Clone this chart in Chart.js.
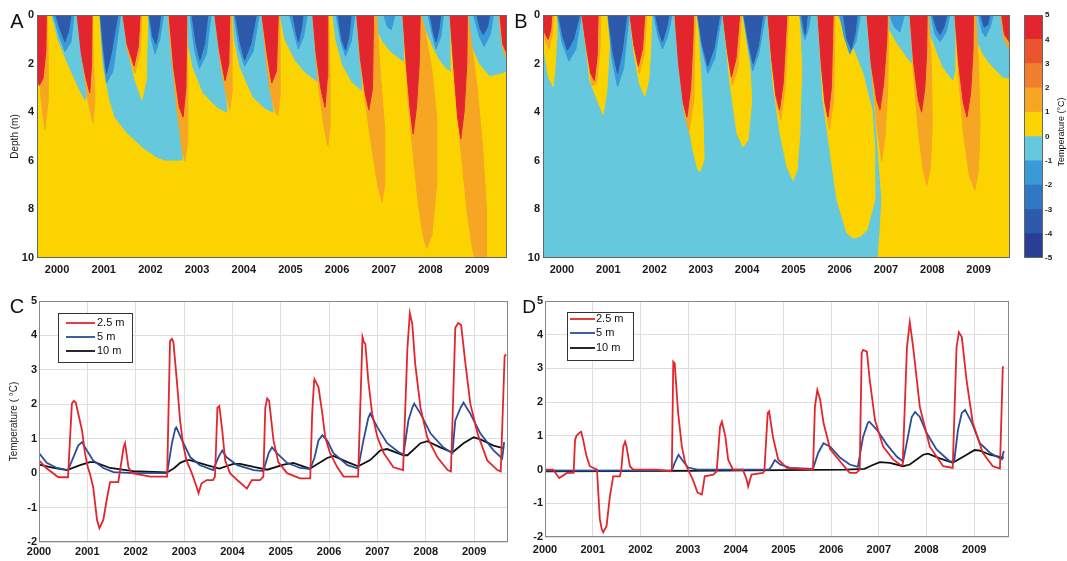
<!DOCTYPE html>
<html>
<head>
<meta charset="utf-8">
<script src="https://cdn.jsdelivr.net/npm/chart.js@4.4.1/dist/chart.umd.min.js"></script>
<style>
  html, body { margin: 0; padding: 0; background: #fff; }
  body { width: 1067px; height: 561px; position: relative; overflow: hidden; }
  .panel { position: absolute; }
</style>
</head>
<body>
<div class="panel" style="left:0;top:0;width:515px;height:285px"><canvas id="panelA"></canvas></div>
<div class="panel" style="left:510px;top:0;width:504px;height:285px"><canvas id="panelB"></canvas></div>
<div class="panel" style="left:1014px;top:0;width:53px;height:285px"><canvas id="colorbar"></canvas></div>
<div class="panel" style="left:0;top:285px;width:515px;height:276px"><canvas id="panelC"></canvas></div>
<div class="panel" style="left:510px;top:285px;width:557px;height:276px"><canvas id="panelD"></canvas></div>
<script>
// ---- axes ----
const yearTicks = [2000, 2001, 2002, 2003, 2004, 2005, 2006, 2007, 2008, 2009];
const depthTicks = [0, 2, 4, 6, 8, 10];
const tempTicks = [-2, -1, 0, 1, 2, 3, 4, 5];
const levelEdges = [-5, -4, -3, -2, -1, 0, 1, 2, 3, 4, 5];
const levelColors = ['#283f95', '#2d5aab', '#3277c2', '#3a9ad8', '#66c8dd',
                     '#fbd300', '#f6a623', '#f17f2d', '#ec5430', '#e3262d'];

// ---- panel A: contour bands as [year, depth] outlines ----
const aSpan = [1999.57, 2009.64];
const aCyan = [
  [[1999.89,0],[2000.02,1.0],[2000.24,2.05],[2000.49,3.1],[2000.6,3.5],[2000.63,3.3],[2000.56,1.9],[2000.47,0.6],[2000.43,0]],
  [[2000.92,0],[2000.99,2.1],[2001.13,3.5],[2001.24,4.2],[2001.5,4.85],[2001.84,5.45],[2002.14,5.85],[2002.31,5.97],[2002.68,5.97],[2002.68,5.56],[2002.57,3.9],[2002.46,1.85],[2002.38,0]],
  [[2002.78,0],[2002.81,1.2],[2002.91,2.14],[2003.13,3.2],[2003.43,3.8],[2003.64,4.0],[2003.6,3.1],[2003.49,1.85],[2003.38,0]],
  [[2003.77,0],[2003.8,1.0],[2003.92,2.14],[2004.2,3.37],[2004.45,3.83],[2004.63,4.0],[2004.56,3.1],[2004.48,1.85],[2004.39,0]],
  [[2004.78,0],[2004.88,1.0],[2005.1,1.85],[2005.31,2.35],[2005.59,2.75],[2005.55,1.85],[2005.48,0]],
  [[2005.91,0],[2005.97,1.0],[2006.12,2.06],[2006.32,2.76],[2006.53,3.1],[2006.49,1.85],[2006.42,0]],
  [[2006.85,0],[2006.88,0.7],[2006.98,1.1],[2007.15,1.5],[2007.35,1.8],[2007.42,1.9],[2007.41,0]],
  [[2007.8,0],[2007.9,0.6],[2008.05,1.3],[2008.2,1.85],[2008.35,2.2],[2008.44,2.3],[2008.42,0]],
  [[2008.8,0],[2008.85,0.8],[2008.91,1.35],[2009.05,2.0],[2009.27,2.5],[2009.5,2.4],[2009.64,2.3],[2009.64,1.6],[2009.55,1.2],[2009.49,0]]
];
const aYellow = [
  [[2001.41,0],[2001.52,1.44],[2001.67,2.67],[2001.82,3.5],[2001.91,2.67],[2001.93,1.03],[2001.95,0]]
];
const aBlueLight = [
  [[1999.92,0],[2000.05,0.9],[2000.17,1.5],[2000.3,1.1],[2000.36,0]],
  [[2000.92,0],[2000.98,1.5],[2001.06,2.8],[2001.2,2.3],[2001.36,0]],
  [[2001.96,0],[2002.02,1.0],[2002.1,1.6],[2002.2,1.0],[2002.28,0]],
  [[2002.85,0],[2002.95,1.5],[2003.05,2.2],[2003.2,1.6],[2003.3,0]],
  [[2003.79,0],[2003.9,1.4],[2004.02,2.1],[2004.2,1.5],[2004.33,0]],
  [[2004.98,0],[2005.1,0.9],[2005.17,1.4],[2005.28,0.9],[2005.36,0]],
  [[2005.98,0],[2006.08,1.1],[2006.18,1.7],[2006.3,1.1],[2006.38,0]],
  [[2007.0,0],[2007.08,0.5],[2007.16,0.6],[2007.24,0]],
  [[2007.95,0],[2008.05,0.9],[2008.12,1.4],[2008.22,0.9],[2008.28,0]],
  [[2008.92,0],[2009.05,0.9],[2009.15,1.3],[2009.28,0.8],[2009.35,0]]
];
const aBlueDark = [
  [[1999.97,0],[2000.07,0.6],[2000.17,1.1],[2000.24,0.7],[2000.3,0]],
  [[2000.93,0],[2000.99,1.3],[2001.06,2.4],[2001.16,1.6],[2001.3,0]],
  [[2001.98,0],[2002.05,0.9],[2002.12,1.2],[2002.18,0.6],[2002.22,0]],
  [[2002.89,0],[2002.98,1.2],[2003.06,1.85],[2003.16,1.2],[2003.23,0]],
  [[2003.82,0],[2003.93,1.2],[2004.02,1.85],[2004.15,1.2],[2004.27,0]],
  [[2005.05,0],[2005.12,0.7],[2005.17,1.1],[2005.23,0.6],[2005.27,0]],
  [[2006.02,0],[2006.1,1.0],[2006.18,1.44],[2006.25,0.9],[2006.3,0]],
  [[2007.99,0],[2008.06,0.7],[2008.12,1.1],[2008.18,0.6],[2008.22,0]],
  [[2008.99,0],[2009.07,0.6],[2009.13,0.8],[2009.22,0.5],[2009.27,0]]
];
const aOrange = [
  [[1999.57,0],[1999.57,1.5],[1999.6,1.85],[1999.66,3.5],[1999.74,4.7],[1999.81,3.5],[1999.81,1.85],[1999.79,0]],
  [[2000.43,0],[2000.56,2.14],[2000.66,3.5],[2000.77,4.45],[2000.81,3.5],[2000.77,1.44],[2000.75,0]],
  [[2001.41,0],[2001.5,1.4],[2001.67,2.4],[2001.78,1.5],[2001.82,0]],
  [[2002.38,0],[2002.46,1.85],[2002.57,3.9],[2002.68,5.56],[2002.74,6.0],[2002.8,5.2],[2002.8,2.7],[2002.78,0]],
  [[2003.38,0],[2003.49,1.85],[2003.6,3.1],[2003.7,3.9],[2003.76,3.0],[2003.75,1.0],[2003.74,0]],
  [[2004.39,0],[2004.48,1.85],[2004.56,3.1],[2004.68,4.0],[2004.73,4.15],[2004.78,3.3],[2004.78,1.2],[2004.77,0]],
  [[2005.48,0],[2005.55,1.85],[2005.62,3.2],[2005.72,4.6],[2005.8,5.4],[2005.85,4.5],[2005.85,2.5],[2005.82,0]],
  [[2006.42,0],[2006.49,1.85],[2006.6,3.5],[2006.75,5.56],[2006.87,7.0],[2006.96,7.7],[2007.02,7.0],[2007.02,4.7],[2006.92,2.3],[2006.85,0]],
  [[2007.41,0],[2007.52,3.5],[2007.62,5.56],[2007.73,7.6],[2007.84,9.05],[2007.92,9.6],[2008.03,9.05],[2008.14,6.8],[2008.14,4.3],[2008.03,2.26],[2007.88,0.6],[2007.8,0]],
  [[2008.42,0],[2008.52,2.5],[2008.65,5.5],[2008.78,8.0],[2008.9,9.6],[2008.95,10],[2009.2,10],[2009.2,8.0],[2009.12,5.5],[2009.0,3.0],[2008.88,1.2],[2008.8,0]],
  [[2009.47,0],[2009.54,1.3],[2009.64,1.9],[2009.64,0]]
];
const aRed = [
  [[1999.57,0],[1999.57,2.6],[1999.62,2.9],[1999.7,2.6],[1999.76,1.5],[1999.77,0]],
  [[2000.43,0],[2000.52,1.6],[2000.62,2.6],[2000.7,3.2],[2000.74,2.0],[2000.75,0]],
  [[2001.41,0],[2001.5,1.2],[2001.65,2.1],[2001.74,1.3],[2001.78,0]],
  [[2002.4,0],[2002.5,2.2],[2002.62,3.8],[2002.7,4.2],[2002.76,3.0],[2002.78,0]],
  [[2003.38,0],[2003.48,1.5],[2003.6,2.7],[2003.68,2.0],[2003.7,0]],
  [[2004.39,0],[2004.5,1.6],[2004.6,2.8],[2004.7,2.3],[2004.74,0]],
  [[2005.48,0],[2005.55,1.6],[2005.65,3.0],[2005.74,3.8],[2005.79,2.6],[2005.8,0]],
  [[2006.42,0],[2006.5,1.8],[2006.6,3.2],[2006.68,3.9],[2006.76,3.0],[2006.78,0]],
  [[2007.41,0],[2007.48,2.0],[2007.56,3.8],[2007.63,4.9],[2007.7,3.8],[2007.76,2.0],[2007.78,0]],
  [[2008.42,0],[2008.5,2.2],[2008.58,4.2],[2008.65,5.1],[2008.72,4.0],[2008.78,2.0],[2008.79,0]],
  [[2009.49,0],[2009.55,1.2],[2009.64,1.6],[2009.64,0]]
];

// ---- panel B ----
const bSpan = [1999.59, 2009.68];
const bYellowBase = [
  [[2006.59,0],[2006.72,2.81],[2006.83,5.56],[2006.91,7.61],[2006.87,8.98],[2006.83,10],[2009.68,10],[2009.68,0]]
];
const bCyan = [
  [[2007.0,0],[2007.08,0.62],[2007.24,1.15],[2007.45,1.73],[2007.56,1.98],[2007.54,0]],
  [[2007.88,0],[2007.95,0.75],[2008.1,1.5],[2008.23,2.14],[2008.44,2.67],[2008.49,2.3],[2008.49,0]],
  [[2008.88,0],[2008.96,1.03],[2009.1,1.6],[2009.24,1.98],[2009.52,2.55],[2009.68,2.6],[2009.68,0]]
];
const bYellow = [
  [[1999.59,0],[1999.62,1.5],[1999.7,2.5],[1999.81,2.95],[1999.86,2.0],[1999.88,1.0],[1999.89,0]],
  [[2000.43,0],[2000.52,1.3],[2000.6,2.67],[2000.76,3.5],[2000.89,4.1],[2000.97,3.1],[2001.02,1.44],[2001.04,0]],
  [[2001.47,0],[2001.55,1.5],[2001.67,2.8],[2001.79,3.35],[2001.88,2.6],[2001.92,1.3],[2001.94,0]],
  [[2002.44,0],[2002.55,2.0],[2002.7,4.2],[2002.83,5.56],[2002.94,6.38],[2002.98,6.45],[2003.07,5.97],[2003.05,4.3],[2002.98,1.85],[2002.92,0]],
  [[2003.48,0],[2003.63,2.8],[2003.78,4.86],[2003.91,5.43],[2004.02,5.14],[2004.1,3.5],[2004.06,2.14],[2003.95,0.75],[2003.89,0]],
  [[2004.45,0],[2004.56,2.8],[2004.71,4.86],[2004.86,6.24],[2004.99,6.8],[2005.08,6.38],[2005.14,4.86],[2005.18,2.14],[2005.14,0.5],[2005.12,0]],
  [[2005.53,0],[2005.64,3.5],[2005.79,5.56],[2005.94,7.61],[2006.16,8.98],[2006.29,9.19],[2006.45,9.1],[2006.59,8.85],[2006.76,7.61],[2006.76,5.56],[2006.7,3.91],[2006.5,2.4],[2006.22,1.03],[2005.94,0]]
];
const bBlueLight = [
  [[1999.9,0],[2000.0,1.1],[2000.15,1.9],[2000.3,1.4],[2000.42,0]],
  [[2000.99,0],[2001.08,1.8],[2001.2,2.95],[2001.33,2.2],[2001.45,0]],
  [[2001.98,0],[2002.08,0.9],[2002.17,1.4],[2002.28,0.9],[2002.38,0]],
  [[2002.92,0],[2003.02,1.3],[2003.15,2.4],[2003.3,1.8],[2003.45,0]],
  [[2003.92,0],[2004.02,1.2],[2004.12,2.3],[2004.25,1.6],[2004.4,0]],
  [[2005.14,0],[2005.2,0.7],[2005.25,1.0],[2005.32,0.6],[2005.38,0]],
  [[2006.0,0],[2006.1,0.9],[2006.22,1.6],[2006.35,1.1],[2006.45,0]],
  [[2007.08,0],[2007.18,0.5],[2007.3,0.7],[2007.4,0]],
  [[2007.97,0],[2008.06,0.8],[2008.17,1.1],[2008.3,0.7],[2008.38,0]],
  [[2009.0,0],[2009.08,0.7],[2009.15,0.9],[2009.25,0.5],[2009.32,0]]
];
const bBlueDark = [
  [[1999.93,0],[2000.02,0.9],[2000.12,1.45],[2000.25,1.0],[2000.38,0]],
  [[2001.0,0],[2001.1,1.5],[2001.2,2.4],[2001.3,1.5],[2001.4,0]],
  [[2002.02,0],[2002.1,0.7],[2002.17,1.1],[2002.25,0.6],[2002.32,0]],
  [[2002.94,0],[2003.03,1.2],[2003.15,2.1],[2003.28,1.4],[2003.41,0]],
  [[2003.93,0],[2004.03,1.1],[2004.13,2.0],[2004.24,1.3],[2004.34,0]],
  [[2005.18,0],[2005.23,0.6],[2005.26,0.8],[2005.3,0]],
  [[2006.08,0],[2006.16,1.0],[2006.25,1.4],[2006.33,0.8],[2006.38,0]],
  [[2008.01,0],[2008.1,0.6],[2008.17,0.8],[2008.25,0.5],[2008.32,0]],
  [[2009.05,0],[2009.12,0.5],[2009.2,0.4],[2009.24,0]]
];
const bOrange = [
  [[1999.59,0],[1999.63,1.0],[1999.72,1.4],[1999.8,0.7],[1999.82,0]],
  [[2000.43,0],[2000.53,1.5],[2000.65,2.9],[2000.75,2.8],[2000.82,1.4],[2000.84,0]],
  [[2001.47,0],[2001.56,1.4],[2001.67,2.4],[2001.78,1.6],[2001.83,0]],
  [[2002.44,0],[2002.53,2.2],[2002.64,4.0],[2002.74,4.8],[2002.85,3.5],[2002.88,0]],
  [[2003.48,0],[2003.57,1.5],[2003.68,2.9],[2003.8,2.2],[2003.88,0]],
  [[2004.45,0],[2004.54,2.0],[2004.64,3.7],[2004.73,4.3],[2004.82,3.0],[2004.9,0]],
  [[2005.53,0],[2005.61,2.2],[2005.7,4.0],[2005.78,4.7],[2005.87,3.5],[2005.9,0]],
  [[2006.59,0],[2006.7,2.5],[2006.82,4.8],[2006.91,6.0],[2006.98,5.0],[2007.04,3.0],[2007.06,0]],
  [[2007.52,0],[2007.6,2.5],[2007.7,4.8],[2007.8,6.3],[2007.88,7.0],[2007.96,6.3],[2008.0,4.5],[2007.98,2.0],[2007.92,0]],
  [[2008.49,0],[2008.57,2.5],[2008.67,4.8],[2008.8,6.6],[2008.92,7.2],[2009.0,6.4],[2009.03,4.5],[2009.0,2.0],[2008.94,0]],
  [[2009.48,0],[2009.55,1.0],[2009.68,1.5],[2009.68,0]]
];
const bRed = [
  [[1999.59,0],[1999.62,0.7],[1999.7,1.0],[1999.76,0.6],[1999.78,0]],
  [[2000.43,0],[2000.52,1.2],[2000.62,2.4],[2000.7,2.7],[2000.76,1.7],[2000.78,0]],
  [[2001.47,0],[2001.55,1.2],[2001.65,2.1],[2001.74,1.4],[2001.79,0]],
  [[2002.44,0],[2002.52,2.0],[2002.62,3.6],[2002.7,4.2],[2002.78,3.0],[2002.83,1.0],[2002.84,0]],
  [[2003.48,0],[2003.56,1.3],[2003.66,2.55],[2003.76,1.8],[2003.84,0]],
  [[2004.45,0],[2004.53,1.8],[2004.62,3.3],[2004.7,3.9],[2004.78,2.8],[2004.86,0]],
  [[2005.53,0],[2005.6,2.0],[2005.68,3.6],[2005.75,4.2],[2005.82,3.0],[2005.86,0]],
  [[2006.59,0],[2006.68,2.0],[2006.8,3.5],[2006.87,3.9],[2006.95,2.8],[2007.02,1.0],[2007.03,0]],
  [[2007.52,0],[2007.6,2.0],[2007.7,3.5],[2007.77,4.0],[2007.84,3.0],[2007.88,1.5],[2007.89,0]],
  [[2008.49,0],[2008.57,2.0],[2008.67,3.6],[2008.75,4.2],[2008.83,3.2],[2008.88,1.5],[2008.89,0]],
  [[2009.5,0],[2009.56,0.8],[2009.68,1.15],[2009.68,0]]
];

// ---- panels C and D: [year, temperature] ----
const depthLabels = ['2.5 m', '5 m', '10 m'];
const c25 = [[2000,0.37],[2000.15,0.15],[2000.4,-0.12],[2000.6,-0.12],[2000.68,2.02],[2000.72,2.1],[2000.76,2.05],[2000.89,1.24],[2000.95,0.58],[2001.01,0.17],[2001.05,0.0],[2001.12,-0.4],[2001.2,-1.36],[2001.25,-1.6],[2001.33,-1.36],[2001.4,-0.78],[2001.47,-0.26],[2001.64,-0.26],[2001.75,0.75],[2001.78,0.87],[2001.85,0.17],[2001.92,0.0],[2002.3,-0.1],[2002.65,-0.1],[2002.71,3.84],[2002.75,3.9],[2002.78,3.8],[2002.85,2.7],[2002.92,1.5],[2002.98,0.85],[2003.05,0.37],[2003.16,0.0],[2003.26,-0.4],[2003.3,-0.58],[2003.36,-0.3],[2003.47,-0.2],[2003.6,-0.2],[2003.64,-0.1],[2003.69,1.9],[2003.73,1.95],[2003.79,1.24],[2003.85,0.37],[2003.95,0.0],[2004.1,-0.2],[2004.26,-0.4],[2004.3,-0.45],[2004.4,-0.2],[2004.57,-0.2],[2004.64,-0.1],[2004.68,1.9],[2004.72,2.17],[2004.76,2.1],[2004.85,0.95],[2004.95,0.32],[2005.13,0.0],[2005.4,-0.15],[2005.61,-0.15],[2005.65,1.73],[2005.69,2.69],[2005.7,2.72],[2005.78,2.5],[2005.86,1.73],[2005.92,1.04],[2006.02,0.58],[2006.17,0.17],[2006.3,-0.1],[2006.6,-0.1],[2006.69,3.95],[2006.72,3.8],[2006.75,3.75],[2006.81,2.69],[2006.89,1.73],[2007.0,1.04],[2007.13,0.58],[2007.33,0.17],[2007.53,0.09],[2007.62,3.64],[2007.67,4.65],[2007.72,4.33],[2007.78,3.18],[2007.89,1.9],[2008.03,1.04],[2008.24,0.46],[2008.45,0.09],[2008.52,0.05],[2008.61,4.22],[2008.67,4.36],[2008.73,4.3],[2008.82,3.18],[2008.92,2.02],[2009.07,1.15],[2009.27,0.37],[2009.48,0.09],[2009.55,0.05],[2009.63,3.4],[2009.66,3.45]];
const c5 = [[2000,0.58],[2000.16,0.3],[2000.37,0.15],[2000.6,0.09],[2000.71,0.46],[2000.81,0.8],[2000.89,0.9],[2000.99,0.66],[2001.12,0.37],[2001.33,0.15],[2001.54,0.03],[2001.95,0.0],[2002.65,0.0],[2002.75,0.87],[2002.82,1.3],[2002.84,1.33],[2002.96,0.95],[2003.13,0.46],[2003.33,0.23],[2003.6,0.09],[2003.71,0.46],[2003.79,0.66],[2003.88,0.46],[2004.1,0.23],[2004.44,0.09],[2004.64,0.06],[2004.75,0.58],[2004.82,0.75],[2004.92,0.58],[2005.13,0.3],[2005.4,0.15],[2005.61,0.12],[2005.7,0.46],[2005.78,0.95],[2005.86,1.1],[2005.96,0.95],[2006.09,0.58],[2006.38,0.23],[2006.6,0.13],[2006.71,0.95],[2006.81,1.6],[2006.85,1.73],[2007.0,1.33],[2007.2,0.87],[2007.47,0.58],[2007.54,0.55],[2007.64,1.53],[2007.72,1.9],[2007.76,2.02],[2007.89,1.73],[2008.1,1.15],[2008.36,0.75],[2008.55,0.58],[2008.61,1.53],[2008.72,1.9],[2008.78,2.05],[2008.92,1.73],[2009.13,1.15],[2009.4,0.66],[2009.58,0.43],[2009.62,0.9]];
const c10 = [[2000,0.25],[2000.3,0.15],[2000.58,0.09],[2000.85,0.23],[2001.05,0.32],[2001.15,0.32],[2001.47,0.15],[2001.95,0.06],[2002.65,0.02],[2002.8,0.15],[2002.92,0.3],[2003.05,0.38],[2003.12,0.38],[2003.47,0.23],[2003.73,0.13],[2004.02,0.27],[2004.16,0.27],[2004.44,0.18],[2004.72,0.1],[2005.06,0.25],[2005.26,0.3],[2005.6,0.13],[2005.96,0.44],[2006.09,0.5],[2006.38,0.32],[2006.6,0.2],[2006.85,0.38],[2007.06,0.66],[2007.2,0.7],[2007.54,0.52],[2007.62,0.52],[2007.89,0.87],[2008.03,0.93],[2008.3,0.75],[2008.55,0.6],[2008.78,0.87],[2008.99,1.04],[2009.13,0.98],[2009.4,0.8],[2009.62,0.72]];
const d25 = [[2000,0.0],[2000.17,0.0],[2000.27,-0.2],[2000.3,-0.25],[2000.46,-0.1],[2000.6,-0.1],[2000.63,0.88],[2000.66,1.0],[2000.73,1.1],[2000.76,1.12],[2000.8,0.88],[2000.87,0.4],[2000.94,0.1],[2001.09,0.0],[2001.11,-0.5],[2001.15,-1.47],[2001.19,-1.77],[2001.22,-1.86],[2001.29,-1.68],[2001.36,-0.8],[2001.43,-0.2],[2001.57,-0.2],[2001.6,0.0],[2001.64,0.68],[2001.68,0.83],[2001.71,0.68],[2001.78,0.1],[2001.85,0.0],[2002.35,0.0],[2002.62,-0.05],[2002.66,0.0],[2002.69,3.2],[2002.72,3.15],[2002.79,1.7],[2002.87,0.68],[2002.94,0.2],[2003.0,0.0],[2003.1,-0.3],[2003.2,-0.68],[2003.29,-0.74],[2003.35,-0.2],[2003.53,-0.15],[2003.6,-0.05],[2003.67,1.27],[2003.71,1.42],[2003.78,1.0],[2003.84,0.3],[2003.94,0.0],[2004.15,0.0],[2004.23,-0.3],[2004.26,-0.5],[2004.33,-0.15],[2004.57,-0.1],[2004.6,-0.05],[2004.67,1.68],[2004.7,1.73],[2004.78,0.97],[2004.89,0.3],[2005.07,0.05],[2005.62,0.0],[2005.66,1.86],[2005.71,2.36],[2005.77,2.07],[2005.84,1.39],[2005.98,0.6],[2006.19,0.24],[2006.33,0.0],[2006.39,-0.1],[2006.53,-0.1],[2006.6,0.0],[2006.64,3.45],[2006.67,3.55],[2006.75,3.5],[2006.81,2.65],[2006.92,1.47],[2007.09,0.68],[2007.3,0.3],[2007.44,0.15],[2007.5,0.13],[2007.59,3.63],[2007.65,4.37],[2007.72,3.63],[2007.86,1.86],[2008.07,0.68],[2008.35,0.1],[2008.55,0.05],[2008.63,3.63],[2008.68,4.07],[2008.74,3.93],[2008.84,2.65],[2008.97,1.39],[2009.18,0.5],[2009.39,0.1],[2009.54,0.03],[2009.6,3.04],[2009.62,3.05]];
const d5 = [[2000,-0.03],[2002.66,-0.03],[2002.72,0.2],[2002.77,0.35],[2002.8,0.44],[2002.9,0.24],[2003.0,0.06],[2003.2,0.0],[2004.7,0.0],[2004.75,0.1],[2004.82,0.28],[2004.93,0.15],[2005.14,0.05],[2005.62,0.02],[2005.73,0.5],[2005.84,0.78],[2005.98,0.68],[2006.19,0.35],[2006.39,0.15],[2006.56,0.08],[2006.67,0.97],[2006.77,1.39],[2006.8,1.42],[2006.96,1.18],[2007.17,0.74],[2007.38,0.38],[2007.51,0.24],[2007.61,0.97],[2007.69,1.56],[2007.76,1.71],[2007.86,1.56],[2008.0,1.09],[2008.21,0.6],[2008.49,0.24],[2008.58,0.24],[2008.66,1.18],[2008.74,1.68],[2008.81,1.77],[2008.95,1.39],[2009.12,0.78],[2009.33,0.5],[2009.58,0.3],[2009.62,0.55]];
const d10 = [[2000,-0.05],[2003.0,-0.04],[2006.3,0.0],[2006.7,0.02],[2006.85,0.12],[2007.02,0.22],[2007.23,0.2],[2007.51,0.1],[2007.65,0.15],[2007.93,0.44],[2008.03,0.47],[2008.28,0.33],[2008.55,0.2],[2008.77,0.38],[2009.01,0.58],[2009.12,0.56],[2009.33,0.44],[2009.62,0.35]];

// ---- helpers ----
Chart.defaults.font.family = "'Liberation Sans', Arial, sans-serif";
Chart.defaults.color = '#1a1a1a';
const FONT = "'Liberation Sans', Arial, sans-serif";
const tickFont = { size: 11, weight: 'bold' };

function fixedTicks(values) {
  return scale => { scale.ticks = values.map(v => ({ value: v })); };
}

function frame(color) {
  return {
    id: 'frame',
    afterDatasetsDraw(chart) {
      const a = chart.chartArea, ctx = chart.ctx;
      ctx.save();
      ctx.strokeStyle = color;
      ctx.lineWidth = 1;
      ctx.strokeRect(a.left + 0.5, a.top + 0.5, a.width - 1, a.height - 1);
      ctx.restore();
    }
  };
}

function notes(items) {
  return {
    id: 'notes',
    afterDraw(chart) {
      const ctx = chart.ctx;
      items.forEach(n => {
        ctx.save();
        ctx.translate(n.x, n.y);
        if (n.rotate) ctx.rotate(n.rotate);
        ctx.font = n.font;
        ctx.fillStyle = '#111';
        ctx.textAlign = 'center';
        ctx.textBaseline = 'middle';
        ctx.fillText(n.text, 0, 0);
        ctx.restore();
      });
    }
  };
}

function boxLegend(box) {
  return {
    id: 'boxLegend',
    afterDraw(chart) {
      const ctx = chart.ctx;
      ctx.save();
      ctx.fillStyle = '#fff';
      ctx.fillRect(box.x, box.y, box.w, box.h);
      ctx.strokeStyle = '#333';
      ctx.lineWidth = 1;
      ctx.strokeRect(box.x + 0.5, box.y + 0.5, box.w, box.h);
      ctx.font = '11px ' + FONT;
      ctx.textBaseline = 'middle';
      chart.data.datasets.forEach((ds, i) => {
        const y = box.y + box.rows[i];
        ctx.strokeStyle = ds.borderColor;
        ctx.lineWidth = ds.borderWidth;
        ctx.beginPath();
        ctx.moveTo(box.x + box.line[0], y);
        ctx.lineTo(box.x + box.line[1], y);
        ctx.stroke();
        ctx.fillStyle = '#111';
        ctx.fillText(ds.label, box.x + box.text, y);
      });
      ctx.restore();
    }
  };
}

function polyLayer(polys, color) {
  return polys.map(p => ({
    data: p.map(([x, y]) => ({ x, y })),
    backgroundColor: color,
    borderColor: color,
    borderWidth: 1,
    fill: 'shape',
    pointRadius: 0,
    tension: 0
  }));
}

function contourChart(id, span, layers, axisWidth, padRight, yTitle, extra) {
  const bg = [[span[0], 0], [span[1], 0], [span[1], 10], [span[0], 10]];
  // layers are listed bottom to top; Chart.js paints dataset 0 last
  const datasets = [[[bg], layers[0][1]]].concat(layers.slice(1))
    .flatMap(([polys, color]) => polyLayer(polys, color)).reverse();
  return new Chart(document.getElementById(id), {
    type: 'line',
    data: { datasets },
    options: {
      responsive: true,
      maintainAspectRatio: false,
      animation: false,
      layout: { padding: { top: 15, right: padRight, left: 0, bottom: 0 } },
      plugins: { legend: { display: false }, tooltip: { enabled: false } },
      scales: {
        x: {
          type: 'linear', min: span[0], max: span[1],
          afterBuildTicks: fixedTicks(yearTicks),
          afterFit: s => { s.height = 27; },
          grid: { display: false, drawTicks: false },
          border: { display: false },
          ticks: { font: tickFont, padding: 5, maxRotation: 0, autoSkip: false, callback: v => String(v) }
        },
        y: {
          type: 'linear', reverse: true, min: 0, max: 10,
          afterBuildTicks: fixedTicks(depthTicks),
          afterFit: s => { s.width = axisWidth; },
          grid: { display: false, drawTicks: false },
          border: { display: false },
          ticks: { font: tickFont, padding: 3, autoSkip: false, callback: v => String(v) },
          title: { display: !!yTitle, text: yTitle, font: { size: 10 }, padding: { top: 9, bottom: 0 } }
        }
      }
    },
    plugins: [frame('#666')].concat(extra)
  });
}

function lineChart(id, series, colors, xMax, axisWidth, padRight, xHeight, labelPad, legend, extra, yTitle) {
  return new Chart(document.getElementById(id), {
    type: 'line',
    data: {
      datasets: series.map((s, i) => ({
        label: depthLabels[i],
        data: s.map(([x, y]) => ({ x, y })),
        borderColor: colors[i],
        borderWidth: 1.8,
        pointRadius: 0,
        tension: 0,
        fill: false
      }))
    },
    options: {
      responsive: true,
      maintainAspectRatio: false,
      animation: false,
      layout: { padding: { top: 16, right: padRight, left: 0, bottom: 0 } },
      plugins: { legend: { display: false }, tooltip: { enabled: false } },
      scales: {
        x: {
          type: 'linear', min: 2000, max: xMax,
          afterBuildTicks: fixedTicks(yearTicks),
          afterFit: s => { s.height = xHeight; },
          grid: { color: '#dedede', drawTicks: false },
          border: { display: false },
          ticks: { font: tickFont, padding: labelPad, maxRotation: 0, autoSkip: false, callback: v => String(v) }
        },
        y: {
          type: 'linear', min: -2, max: 5,
          afterBuildTicks: fixedTicks(tempTicks),
          afterFit: s => { s.width = axisWidth; },
          grid: { color: '#dedede', drawTicks: false },
          border: { display: false },
          ticks: { font: tickFont, padding: 2, autoSkip: false, callback: v => String(v) },
          title: { display: !!yTitle, text: yTitle, font: { size: 10 }, padding: { top: 8, bottom: 0 } }
        }
      }
    },
    plugins: [frame('#888'), boxLegend(legend)].concat(extra)
  });
}

const cyan = levelColors[4], yellow = levelColors[5], orange = levelColors[6], red = levelColors[9];
const blueLight = levelColors[3], blueDark = levelColors[1];
const letterFont = '20px ' + FONT;

contourChart('panelA', aSpan, [
  [null, yellow],
  [aCyan, cyan],
  [aYellow, yellow],
  [aBlueLight, blueLight],
  [aBlueDark, blueDark],
  [aOrange, orange],
  [aRed, red]
], 37, 8, 'Depth (m)', [notes([{ text: 'A', x: 17, y: 22, font: letterFont }])]);

contourChart('panelB', bSpan, [
  [null, cyan],
  [bYellowBase, yellow],
  [bCyan, cyan],
  [bYellow, yellow],
  [bBlueLight, blueLight],
  [bBlueDark, blueDark],
  [bOrange, orange],
  [bRed, red]
], 33, 4, '', [notes([{ text: 'B', x: 11, y: 22, font: letterFont }])]);

new Chart(document.getElementById('colorbar'), {
  type: 'bar',
  data: {
    labels: [''],
    datasets: levelColors.map((c, i) => ({
      data: [[levelEdges[i], levelEdges[i + 1]]],
      backgroundColor: c,
      grouped: false,
      barPercentage: 1,
      categoryPercentage: 1
    }))
  },
  options: {
    responsive: true,
    maintainAspectRatio: false,
    animation: false,
    layout: { padding: { left: 10, top: 15, bottom: 27, right: 0 } },
    plugins: { legend: { display: false }, tooltip: { enabled: false } },
    scales: {
      x: { display: false },
      y: {
        position: 'right', min: -5, max: 5,
        afterBuildTicks: fixedTicks(levelEdges),
        afterFit: s => { s.width = 24; },
        grid: { display: false, drawTicks: false },
        border: { display: false },
        ticks: { font: { size: 8, weight: 'bold' }, padding: 2, callback: v => String(v) }
      }
    }
  },
  plugins: [frame('#666'), notes([{ text: 'Temperature (°C)', x: 48, y: 132, rotate: -Math.PI / 2, font: '9px ' + FONT }])]
});

const lineColors = ['#e3262b', '#2a4d9b', '#111111'];

lineChart('panelC', [c25, c5, c10], lineColors, 2009.7, 39, 7, 19, 3,
  { x: 58, y: 28, w: 74, h: 49, rows: [10, 24, 38], line: [8, 37], text: 39 },
  [notes([{ text: 'C', x: 17, y: 22, font: letterFont }])], 'Temperature ( °C)');

lineChart('panelD', [d25, d5, d10], lineColors, 2009.73, 35, 58, 24, 6,
  { x: 57, y: 27, w: 66, h: 48, rows: [7, 21, 36], line: [3, 28], text: 29 },
  [notes([{ text: 'D', x: 19, y: 23, font: '19px ' + FONT }])], '');
</script>
</body>
</html>
